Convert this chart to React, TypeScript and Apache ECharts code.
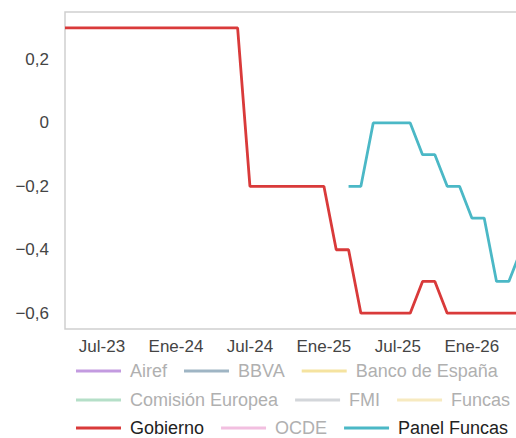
import React, { useEffect, useRef } from "react";
import * as echarts from "echarts";

const months = ["Ene", "Feb", "Mar", "Abr", "May", "Jun", "Jul", "Ago", "Sep", "Oct", "Nov", "Dic"];
// Monthly categories from Abr-23 to Jun-26
const categories: string[] = [];
for (let y = 2023, m = 3; y < 2026 || (y === 2026 && m <= 5); ) {
  categories.push(`${months[m]}-${String(y).slice(2)}`);
  m++;
  if (m === 12) { m = 0; y++; }
}

const gobierno: (number | null)[] = [
  0.3, 0.3, 0.3, 0.3, 0.3, 0.3, 0.3, 0.3, 0.3, 0.3, 0.3, 0.3, 0.3, 0.3, 0.3, // Abr-23..Jun-24
  -0.2, -0.2, -0.2, -0.2, -0.2, -0.2, -0.2, // Jul-24..Ene-25
  -0.4, -0.4, // Feb-25, Mar-25
  -0.6, -0.6, -0.6, -0.6, -0.6, // Abr-25..Ago-25
  -0.5, -0.5, // Sep-25, Oct-25
  -0.6, -0.6, -0.6, -0.6, -0.6, -0.6, -0.6, -0.6, // Nov-25..Jun-26
];

const panelFuncas: (number | null)[] = [
  null, null, null, null, null, null, null, null, null, null, null, null, null, null, null,
  null, null, null, null, null, null, null, null, // ..Feb-25
  -0.2, -0.2, // Mar-25, Abr-25
  0, 0, 0, 0, // May-25..Ago-25
  -0.1, -0.1, // Sep, Oct
  -0.2, -0.2, // Nov, Dic
  -0.3, -0.3, // Ene-26, Feb-26
  -0.5, -0.5, // Mar-26, Abr-26
  -0.4, // May-26
  null,
];

const seriesNames = ["Airef", "BBVA", "Banco de España", "Comisión Europea", "FMI", "Funcas", "Gobierno", "OCDE", "Panel Funcas"];
const seriesColors = ["#c39be0", "#9fb5c4", "#f5e3a0", "#b5dfc8", "#d3d6da", "#f7eac0", "#d93a3a", "#f2bfe0", "#4bb8c6"];
const seriesData: Record<string, (number | null)[]> = {
  Gobierno: gobierno,
  "Panel Funcas": panelFuncas,
};
const legendRows = [
  ["Airef", "BBVA", "Banco de España"],
  ["Comisión Europea", "FMI", "Funcas"],
  ["Gobierno", "OCDE", "Panel Funcas"],
];

const FONT = "'Liberation Sans', Arial, sans-serif";

export default function App() {
  const ref = useRef<HTMLDivElement>(null);
  useEffect(() => {
    if (!ref.current) return;
    const chart = echarts.init(ref.current, undefined, { renderer: "svg" });
    const rowTops = [362, 391, 419];
    chart.setOption({
      animation: false,
      textStyle: { fontFamily: FONT },
      grid: {
        left: 65,
        top: 12,
        height: 317,
        width: 468.5,
        show: true,
        borderColor: "#cfcfcf",
        borderWidth: 1.5,
        containLabel: false,
      },
      legend: legendRows.map((row, i) => ({
        left: 76,
        top: rowTops[i],
        padding: 0,
        orient: "horizontal",
        icon: "rect",
        itemWidth: 45,
        itemHeight: 3,
        itemGap: 17,
        selectedMode: false,
        textStyle: { fontSize: 18, fontFamily: FONT, padding: [0, 0, 0, 4] },
        data: row.map((n) => ({
          name: n,
          textStyle: { color: seriesData[n] ? "#222" : "#b0b0b0" },
        })),
      })),
      xAxis: {
        type: "category",
        data: categories,
        boundaryGap: false,
        axisLine: { show: false },
        axisTick: { show: false },
        splitLine: { show: false },
        axisLabel: {
          interval: (index: number) => (index - 3) % 6 === 0,
          color: "#444",
          fontSize: 17,
          fontFamily: FONT,
          margin: 9,
        },
      },
      yAxis: {
        type: "value",
        min: -0.65,
        max: 0.35,
        interval: 0.05,
        axisLine: { show: false },
        axisTick: { show: false },
        splitLine: { show: false },
        axisLabel: {
          color: "#444",
          fontSize: 17,
          fontFamily: FONT,
          margin: 16,
          formatter: (v: number) => {
            const k = Math.round(v * 100);
            if (k % 20 !== 0) return "";
            if (k === 0) return "0";
            const s = (Math.abs(k) / 100).toFixed(1).replace(".", ",");
            return k < 0 ? "\u2212" + s : s;
          },
        },
      },
      series: seriesNames.map((n, i) => ({
        name: n,
        type: "line",
        data: seriesData[n] ?? [],
        color: seriesColors[i],
        showSymbol: false,
        symbol: "none",
        connectNulls: false,
        lineStyle: { width: 2.8, color: seriesColors[i] },
        itemStyle: { color: seriesColors[i] },
      })),
    });
    return () => chart.dispose();
  }, []);
  return (
    <div style={{ position: "fixed", left: 0, top: 0, width: 516, height: 438, overflow: "hidden", background: "#fff" }}>
      <div ref={ref} style={{ width: 600, height: 438 }} />
    </div>
  );
}
